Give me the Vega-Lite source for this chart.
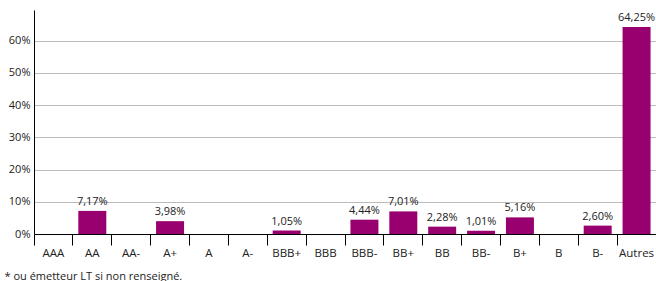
{
  "$schema": "https://vega.github.io/schema/vega-lite/v6.json",
  "autosize": "none",
  "padding": {"left": 34, "top": 10, "right": 0, "bottom": 47},
  "width": 622,
  "height": 224,
  "background": "white",
  "config": {
    "locale": {"number": {"decimal": ",", "thousands": ".", "grouping": [3], "currency": ["", " €"]}},
    "font": "Open Sans",
    "view": {"stroke": null}
  },
  "data": {
    "values": [
      {"notation": "AAA", "part": 0},
      {"notation": "AA", "part": 0.0717},
      {"notation": "AA-", "part": 0},
      {"notation": "A+", "part": 0.0398},
      {"notation": "A", "part": 0},
      {"notation": "A-", "part": 0},
      {"notation": "BBB+", "part": 0.0105},
      {"notation": "BBB", "part": 0},
      {"notation": "BBB-", "part": 0.0444},
      {"notation": "BB+", "part": 0.0701},
      {"notation": "BB", "part": 0.0228},
      {"notation": "BB-", "part": 0.0101},
      {"notation": "B+", "part": 0.0516},
      {"notation": "B", "part": 0},
      {"notation": "B-", "part": 0.026},
      {"notation": "Autres", "part": 0.6425}
    ]
  },
  "encoding": {
    "x": {
      "field": "notation",
      "type": "nominal",
      "sort": null,
      "scale": {"paddingInner": 0, "paddingOuter": 0},
      "axis": {
        "title": "* ou émetteur LT si non renseigné.",
        "titleX": -30,
        "titleY": 45,
        "titleAlign": "left",
        "titleAnchor": "start",
        "titleBaseline": "alphabetic",
        "titleFontWeight": "normal",
        "titleFontSize": 11,
        "titleColor": "#222",
        "bandPosition": 0,
        "labelAngle": 0,
        "labelFontSize": 11.5,
        "labelColor": "#222",
        "labelPadding": 2,
        "domainColor": "#000",
        "tickColor": "#000",
        "tickSize": 11,
        "grid": false
      }
    },
    "y": {
      "field": "part",
      "type": "quantitative",
      "scale": {"domain": [0, 0.695], "nice": false},
      "axis": {
        "title": null,
        "values": [0, 0.1, 0.2, 0.3, 0.4, 0.5, 0.6],
        "format": ".0%",
        "ticks": false,
        "labelPadding": 4,
        "labelFontSize": 11,
        "labelColor": "#222",
        "domainColor": "#000",
        "gridColor": "#bbbbbb",
        "grid": true
      }
    }
  },
  "layer": [
    {
      "mark": {"type": "bar", "color": "#99006F", "width": {"band": 0.72}}
    },
    {
      "transform": [{"filter": "datum.part > 0"}],
      "mark": {"type": "text", "dy": -9, "fontSize": 11, "color": "#222"},
      "encoding": {
        "text": {"field": "part", "type": "quantitative", "format": ".2%"}
      }
    }
  ]
}
